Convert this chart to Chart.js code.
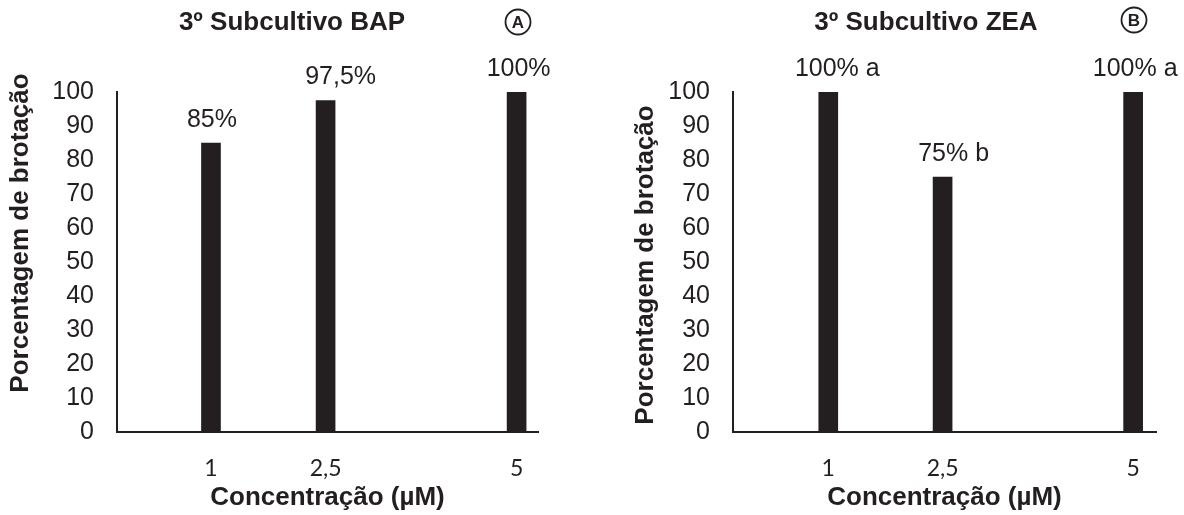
<!DOCTYPE html>
<html>
<head>
<meta charset="utf-8">
<script src="https://cdn.jsdelivr.net/npm/chart.js@4.4.0/dist/chart.umd.min.js"></script>
<style>
  html, body { margin: 0; padding: 0; background: #ffffff; }
  #wrap { display: flex; width: 1184px; height: 515px; }
  .cell { position: relative; width: 592px; height: 515px; }
  canvas { display: block; }
</style>
</head>
<body>
<div id="wrap">
  <div class="cell"><canvas id="chartA" width="592" height="515"></canvas></div>
  <div class="cell"><canvas id="chartB" width="592" height="515"></canvas></div>
</div>
<script>
// ---- data ----
const concentrations = [1, 2.5, 5];
const xTickLabels = ['1', '2,5', '5'];
const bapValues = [85, 97.5, 100];
const bapLabels = ['85%', '97,5%', '100%'];
const zeaValues = [100, 75, 100];
const zeaLabels = ['100% a', '75% b', '100% a'];
const titleBAP = '3º Subcultivo BAP';
const titleZEA = '3º Subcultivo ZEA';
const yAxisTitle = 'Porcentagem de brotação';
const xAxisTitle = 'Concentração (µM)';

const INK = '#231f20';
const SANS = '"Liberation Sans", Arial, sans-serif';
const CAL = 'Lato, "Open Sans", sans-serif';

const decor = {
  id: 'decor',
  afterDraw(chart, args, o) {
    const ctx = chart.ctx;
    ctx.save();
    ctx.fillStyle = INK;
    ctx.strokeStyle = INK;
    ctx.textAlign = 'center';
    ctx.textBaseline = 'middle';
    // main title
    ctx.font = 'bold 26px ' + SANS;
    ctx.fillText(o.title, o.titleX, o.titleY);
    // y axis title
    ctx.save();
    ctx.translate(o.yTitleX, o.yTitleY);
    ctx.rotate(-Math.PI / 2);
    ctx.fillText(yAxisTitle, 0, 0);
    ctx.restore();
    // circled panel letter
    ctx.beginPath();
    ctx.arc(o.markX, o.markY, o.markR, 0, Math.PI * 2);
    ctx.lineWidth = 1.8;
    ctx.stroke();
    ctx.font = 'bold 17px ' + SANS;
    ctx.fillText(o.mark, o.markX, o.markY + 1);
    // value labels above bars
    ctx.font = '25px ' + SANS;
    const meta = chart.getDatasetMeta(0);
    meta.data.forEach((bar, i) => {
      ctx.fillText(o.labels[i], bar.x + (o.labelDx[i] || 0), bar.y - 23);
    });
    ctx.restore();
  }
};

function makeChart(id, values, labels, opts) {
  const data = concentrations.map((c, i) => ({ x: c, y: values[i] }));
  return new Chart(document.getElementById(id), {
    type: 'bar',
    data: {
      datasets: [{
        data: data,
        backgroundColor: INK,
        borderWidth: 0,
        barThickness: 19
      }]
    },
    options: {
      responsive: false,
      animation: false,
      devicePixelRatio: 1,
      layout: { padding: { left: 0, right: opts.padRight, top: 92, bottom: 0 } },
      plugins: {
        legend: { display: false },
        tooltip: { enabled: false },
        decor: {
          title: opts.title, titleX: opts.titleX, titleY: 23,
          yTitleX: opts.yTitleX, yTitleY: opts.yTitleY,
          mark: opts.mark, markX: opts.markX, markY: opts.markY, markR: 12.5,
          labels: labels, labelDx: opts.labelDx
        }
      },
      scales: {
        x: {
          type: 'linear',
          min: opts.xMin,
          max: opts.xMax,
          offset: false,
          grid: { display: false, drawTicks: false, offset: false },
          border: { display: true, color: INK, width: 2 },
          afterBuildTicks: (scale) => { scale.ticks = concentrations.map(v => ({ value: v })); },
          afterFit: (scale) => { scale.height = 83; },
          ticks: {
            autoSkip: false,
            maxRotation: 0,
            padding: 23,
            color: INK,
            font: { family: CAL, size: 23 },
            callback: (v) => { const k = concentrations.indexOf(v); return k >= 0 ? xTickLabels[k] : ''; }
          },
          title: {
            display: true,
            text: xAxisTitle,
            color: INK,
            font: { family: SANS, size: 26, weight: 'bold' },
            padding: { top: 0, bottom: 2 }
          }
        },
        y: {
          min: 0,
          max: 100,
          grid: { display: false, drawTicks: false },
          border: { display: true, color: INK, width: 2 },
          afterFit: (scale) => { scale.width = opts.yWidth; },
          ticks: {
            stepSize: 10,
            padding: 23,
            color: INK,
            font: { family: SANS, size: 25 }
          }
        }
      }
    },
    plugins: [decor]
  });
}

makeChart('chartA', bapValues, bapLabels, {
  title: titleBAP, titleX: 292, yTitleX: 21, yTitleY: 233,
  mark: 'A', markX: 518, markY: 22, labelDx: [1, 15, 2],
  xMin: -0.23, xMax: 5.28, yWidth: 117, padRight: 54
});
makeChart('chartB', zeaValues, zeaLabels, {
  title: titleZEA, titleX: 334, yTitleX: 54, yTitleY: 265,
  mark: 'B', markX: 542, markY: 20, labelDx: [9, 11, 2],
  xMin: -0.25, xMax: 5.3, yWidth: 141, padRight: 28
});
</script>
</body>
</html>
